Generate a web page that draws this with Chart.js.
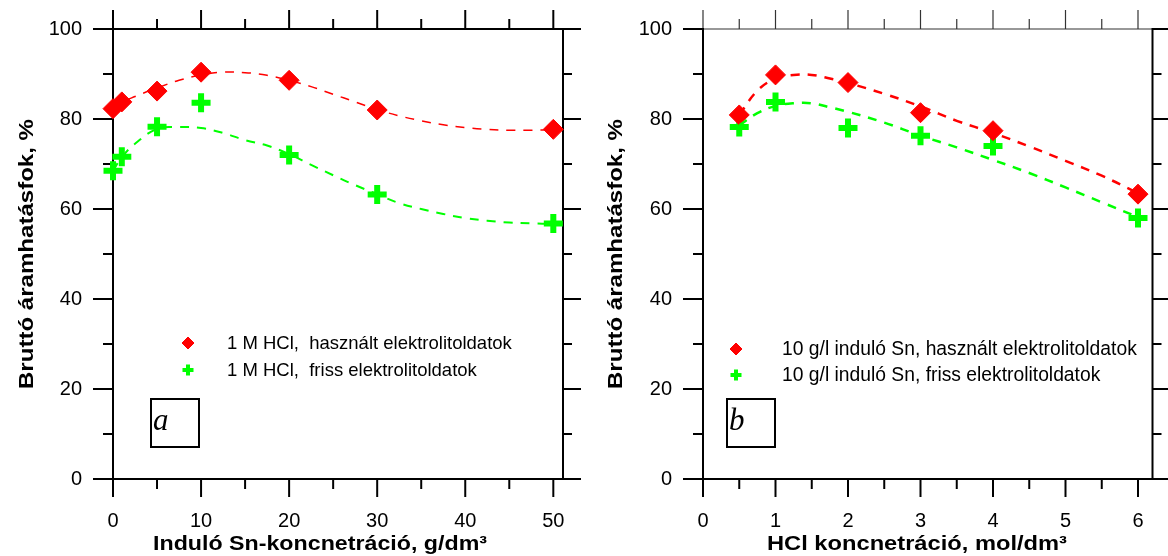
<!DOCTYPE html>
<html>
<head>
<meta charset="utf-8">
<script src="https://cdn.jsdelivr.net/npm/chart.js@4/dist/chart.umd.min.js"></script>
<style>
  html, body { margin: 0; padding: 0; background: #fff; }
  #wrapA { position: absolute; left: 0; top: 0; width: 584px; height: 556px; }
  #wrapB { position: absolute; left: 590px; top: 0; width: 578px; height: 556px; }
</style>
</head>
<body>
<div id="wrapA"><canvas id="chartA"></canvas></div>
<div id="wrapB"><canvas id="chartB"></canvas></div>
<script>
// panel a: Sn concentration
const snConc = [0, 1, 5, 10, 20, 30, 50];
const usedA = [82.3, 83.8, 86.2, 90.4, 88.6, 82.0, 77.7];
const freshA = [68.5, 71.6, 78.3, 83.6, 72.0, 63.2, 56.8];
const fitXA = [0, 1, 2.5, 5, 7.5, 10, 12.5, 15, 17.5, 20, 22.5, 25, 27.5, 30, 32.5, 35, 37.5, 40, 42.5, 45, 47.5, 50];
const fitUsedA = [82.3, 83.7, 85.0, 86.9, 88.6, 89.8, 90.4, 90.3, 89.7, 88.6, 87.2, 85.5, 83.8, 82.1, 80.7, 79.6, 78.7, 78.1, 77.7, 77.5, 77.5, 77.6];
const fitFreshA = [68.5, 71.5, 74.5, 77.8, 78.2, 78.0, 76.9, 75.3, 74.1, 72.2, 69.8, 67.5, 65.3, 63.3, 61.3, 60.0, 58.9, 58.0, 57.4, 57.0, 56.8, 56.7];
const labelsA = ["1 M HCl,  használt elektrolitoldatok", "1 M HCl,  friss elektrolitoldatok"];
const xMajorA = [0, 10, 20, 30, 40, 50];
const xMinorA = [5, 15, 25, 35, 45];

// panel b: HCl concentration
const hclConc = [0.5, 1, 2, 3, 4, 6];
const usedB = [80.9, 89.8, 88.1, 81.4, 77.4, 63.3];
const freshB = [78.2, 83.8, 78.0, 76.3, 74.0, 58.0];
const fitXB = [0.5, 0.75, 1, 1.25, 1.5, 1.75, 2, 2.5, 3, 3.5, 4, 4.5, 5, 5.5, 6];
const fitUsedB = [80.9, 86.3, 89.0, 89.8, 89.8, 89.0, 88.0, 85.6, 82.8, 79.6, 76.9, 73.9, 70.7, 67.4, 63.5];
const fitFreshB = [78.6, 81.3, 82.9, 83.5, 83.5, 82.6, 81.6, 79.2, 76.3, 73.7, 70.9, 68.0, 64.8, 61.5, 58.2];
const labelsB = ["10 g/l induló Sn, használt elektrolitoldatok", "10 g/l induló Sn, friss elektrolitoldatok"];
const xMajorB = [0, 1, 2, 3, 4, 5, 6];
const xMinorB = [0.5, 1.5, 2.5, 3.5, 4.5, 5.5];

const yMajor = [0, 20, 40, 60, 80, 100];
const yMinor = [10, 30, 50, 70, 90];
const yTitle = "Bruttó áramhatásfok, %";

const RED = "#ff0000";
const GREEN = "#00ff00";
const FONT = "'Liberation Sans', Arial, sans-serif";

function pts(xs, ys) {
  return xs.map((v, i) => ({ x: v, y: ys[i] }));
}

// text squeezed/stretched to a given width (the original titles are wide)
function stretchText(ctx, text, cx, cy, width, rot) {
  ctx.save();
  ctx.translate(cx, cy);
  ctx.rotate(rot);
  const w = ctx.measureText(text).width;
  ctx.scale(width / w, 1);
  ctx.fillText(text, 0, 0);
  ctx.restore();
}

const framePlugin = {
  id: "frame",
  beforeDatasetsDraw(chart, args, o) {
    const { ctx, chartArea: a } = chart;
    const x = chart.scales.x, y = chart.scales.y;
    const line = (x1, y1, x2, y2) => { ctx.beginPath(); ctx.moveTo(x1, y1); ctx.lineTo(x2, y2); ctx.stroke(); };
    ctx.save();
    ctx.lineCap = "butt";
    // top axis
    ctx.strokeStyle = o.topColor;
    ctx.lineWidth = o.topWidth;
    line(a.left, a.top, a.right, a.top);
    o.xMajor.forEach(v => { const p = x.getPixelForValue(v); line(p, a.top, p, a.top - 19); });
    o.xMinor.forEach(v => { const p = x.getPixelForValue(v); line(p, a.top, p, a.top - 10); });
    // other three sides
    ctx.strokeStyle = "#000";
    ctx.lineWidth = 2;
    line(a.left, a.top - 1, a.left, a.bottom + 1);
    line(a.right, a.top - 1, a.right, a.bottom + 1);
    line(a.left, a.bottom, a.right, a.bottom);
    o.xMajor.forEach(v => { const p = x.getPixelForValue(v); line(p, a.bottom, p, a.bottom + 18); });
    o.xMinor.forEach(v => { const p = x.getPixelForValue(v); line(p, a.bottom, p, a.bottom + 10); });
    yMajor.forEach(v => {
      const p = y.getPixelForValue(v);
      line(a.left, p, a.left - 20, p);
      line(a.right, p, a.right + 18, p);
    });
    yMinor.forEach(v => {
      const p = y.getPixelForValue(v);
      line(a.left, p, a.left - 10, p);
      line(a.right, p, a.right + 9, p);
    });
    ctx.restore();
  },
  afterDraw(chart, args, o) {
    const { ctx, chartArea: a } = chart;
    ctx.save();
    // axis titles
    ctx.fillStyle = "#000";
    ctx.font = "bold 20px " + FONT;
    ctx.textAlign = "center";
    ctx.textBaseline = "alphabetic";
    stretchText(ctx, o.xTitle, o.xTitleX, 550, o.xTitleW, 0);
    stretchText(ctx, yTitle, o.yTitleX, (a.top + a.bottom) / 2, 270, -Math.PI / 2);
    // legend
    const lg = o.legend;
    chart.data.datasets.slice(2).forEach((ds, i) => {
      const cy = lg.y + i * lg.dy;
      ctx.fillStyle = ds.pointBackgroundColor;
      ctx.strokeStyle = ds.pointBorderColor;
      ctx.lineWidth = lg.styles[i].borderWidth;
      Chart.helpers.drawPoint(ctx, { pointStyle: ds.pointStyle, radius: lg.styles[i].radius, rotation: 0, borderWidth: lg.styles[i].borderWidth }, lg.x, cy);
      ctx.fillStyle = "#000";
      ctx.font = lg.font + "px " + FONT;
      ctx.textBaseline = "middle";
      ctx.textAlign = "left";
      ctx.fillText(ds.label, lg.textX, cy + 1);
    });
    // panel letter box
    const b = o.box;
    ctx.strokeStyle = "#000";
    ctx.lineWidth = 2;
    ctx.strokeRect(b.x, b.y, 48, 48);
    ctx.fillStyle = "#000";
    ctx.font = "italic 31px 'Liberation Serif', 'Times New Roman', serif";
    ctx.textBaseline = "alphabetic";
    ctx.textAlign = "left";
    ctx.fillText(b.text, b.x + 2, b.y + 31);
    ctx.restore();
  }
};

function makeChart(id, cfg) {
  return new Chart(document.getElementById(id), {
    type: "scatter",
    data: {
      datasets: [
        { type: "line", label: "fit1", data: pts(cfg.fitX, cfg.fitUsed), borderColor: RED, borderWidth: cfg.redWidth,
          borderDash: [9, 8], pointRadius: 0, tension: 0.4, fill: false, clip: false },
        { type: "line", label: "fit2", data: pts(cfg.fitX, cfg.fitFresh), borderColor: GREEN, borderWidth: cfg.greenWidth,
          borderDash: [9, 8], pointRadius: 0, tension: 0.4, fill: false, clip: false },
        { label: cfg.labels[0], data: pts(cfg.xs, cfg.used), pointStyle: "rectRot", pointRadius: 10,
          pointBackgroundColor: RED, pointBorderColor: RED, pointBorderWidth: 1, clip: false },
        { label: cfg.labels[1], data: pts(cfg.xs, cfg.fresh), pointStyle: "cross", pointRadius: 9.5,
          pointBackgroundColor: GREEN, pointBorderColor: GREEN, pointBorderWidth: 6, clip: false }
      ]
    },
    options: {
      responsive: true,
      maintainAspectRatio: false,
      animation: false,
      events: [],
      layout: { padding: { top: 29, right: cfg.padRight, left: 0, bottom: 0 } },
      scales: {
        x: {
          type: "linear", position: "bottom", min: 0, max: cfg.xMax,
          afterBuildTicks: s => { s.ticks = cfg.xMajor.map(v => ({ value: v })); },
          afterFit: s => { s.height = 77; s.paddingLeft = 0; s.paddingRight = 0; },
          grid: { display: false, drawTicks: false },
          border: { display: false },
          ticks: { color: "#000", font: { family: FONT, size: 20 }, padding: 30, maxRotation: 0 }
        },
        y: {
          min: 0, max: 100,
          afterBuildTicks: s => { s.ticks = yMajor.map(v => ({ value: v })); },
          afterFit: s => { s.width = 113; s.paddingTop = 0; s.paddingBottom = 0; },
          grid: { display: false, drawTicks: false },
          border: { display: false },
          ticks: { color: "#000", font: { family: FONT, size: 20 }, padding: 31 }
        }
      },
      plugins: {
        legend: { display: false },
        tooltip: { enabled: false },
        frame: {
          xMajor: cfg.xMajor, xMinor: cfg.xMinor,
          topColor: cfg.topColor, topWidth: cfg.topWidth,
          xTitle: cfg.xTitle, xTitleX: cfg.xTitleX, xTitleW: cfg.xTitleW, yTitleX: cfg.yTitleX,
          legend: cfg.legend, box: cfg.box
        }
      }
    },
    plugins: [framePlugin]
  });
}

makeChart("chartA", {
  xs: snConc, used: usedA, fresh: freshA,
  fitX: fitXA, fitUsed: fitUsedA, fitFresh: fitFreshA,
  labels: labelsA, xMajor: xMajorA, xMinor: xMinorA,
  xMax: 51.1, padRight: 21,
  xTitle: "Induló Sn-koncnetráció, g/dm³", xTitleX: 320, xTitleW: 334, yTitleX: 33,
  redWidth: 1.5, greenWidth: 2,
  topColor: "#000", topWidth: 2,
  legend: { x: 188, y: 343, dy: 27, textX: 227, font: 18.5, styles: [{ radius: 6, borderWidth: 1 }, { radius: 5.5, borderWidth: 4 }] },
  box: { x: 151, y: 399, text: "a" }
});

makeChart("chartB", {
  xs: hclConc, used: usedB, fresh: freshB,
  fitX: fitXB, fitUsed: fitUsedB, fitFresh: fitFreshB,
  labels: labelsB, xMajor: xMajorB, xMinor: xMinorB,
  xMax: 6.2, padRight: 15,
  xTitle: "HCl koncnetráció, mol/dm³", xTitleX: 327, xTitleW: 300, yTitleX: 32,
  redWidth: 2.5, greenWidth: 2.5,
  topColor: "#333", topWidth: 1.2,
  legend: { x: 146, y: 349, dy: 26, textX: 192, font: 19.3, styles: [{ radius: 6, borderWidth: 1 }, { radius: 5.5, borderWidth: 4 }] },
  box: { x: 137, y: 399, text: "b" }
});
</script>
</body>
</html>
